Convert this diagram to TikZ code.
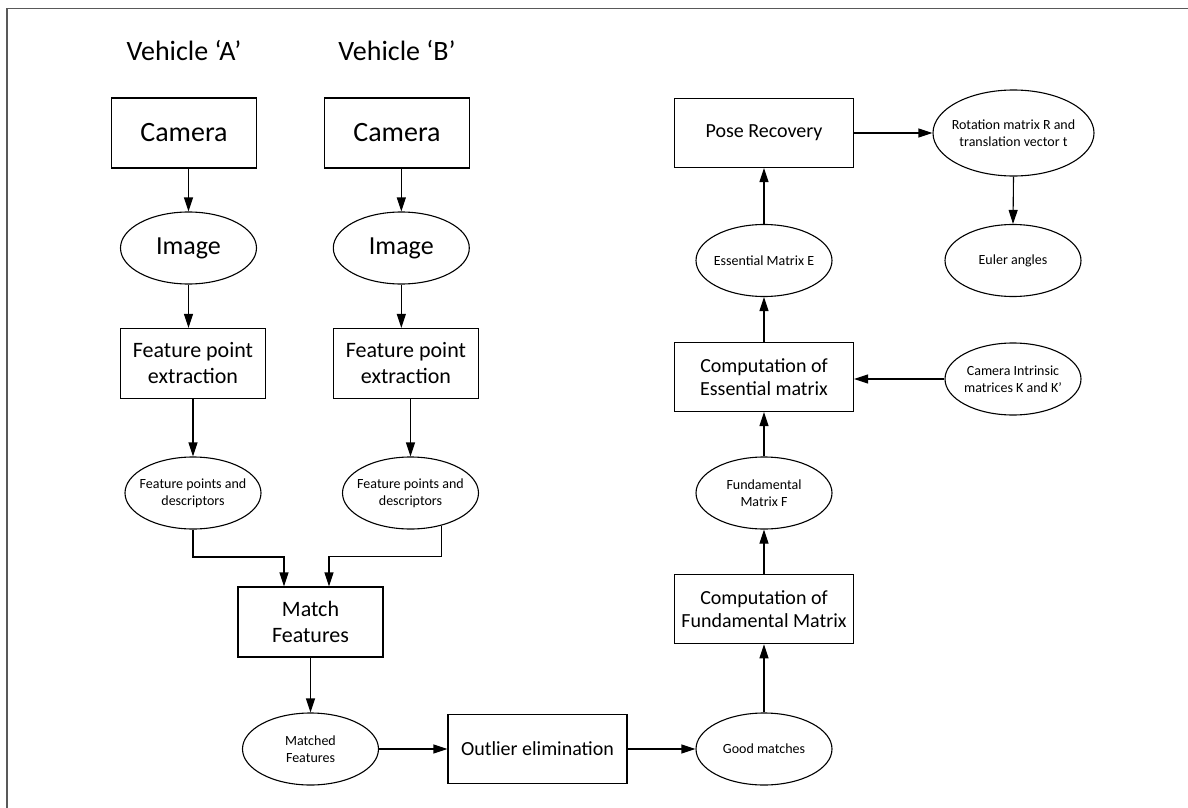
\documentclass[tikz,border=0pt]{standalone}
\usepackage{fontspec}
\setmainfont{Carlito}
\usetikzlibrary{shapes.geometric,arrows.meta}

\begin{document}
\begin{tikzpicture}[x=1pt,y=-1pt,
		box/.style={draw, rectangle, line width=1.1pt, minimum width=145pt, minimum height=70pt, align=center},
		widebox/.style={box, minimum width=179pt, minimum height=69pt},
		oval/.style={draw, ellipse, line width=1.1pt, minimum width=136pt, minimum height=72pt, inner sep=-12pt, align=center, font=\fontsize{14}{17}\selectfont},
		arr/.style={-{Triangle[length=14pt,width=9pt]}, line width=1.1pt},
		bigfont/.style={font=\fontsize{28}{33}\selectfont},
		imgfont/.style={font=\fontsize{26}{30}\selectfont},
		midfont/.style={font=\fontsize{22}{26}\selectfont},
		smallfont/.style={font=\fontsize{20}{23}\selectfont}]
		\useasboundingbox (0,0) rectangle (1188,808);
		\draw[gray!70!black, line width=1.5pt] (6.9,808) -- (6.9,8.3) -- (1188,8.3);

		\node[bigfont, anchor=base] (vehA) at (184,60) {Vehicle ‘A’};
		\node[bigfont, anchor=base] (vehB) at (397,60) {Vehicle ‘B’};
		\node[box, bigfont] (camA) at (184,133) {Camera};
		\node[box, bigfont] (camB) at (397,133) {Camera};
		\node[oval, imgfont] (imgA) at (188.5,248) {Image};
		\node[oval, imgfont] (imgB) at (401.3,248) {Image};
		\node[box, midfont] (fpeA) at (193,363.5) {Feature point\\extraction};
		\node[box, midfont] (fpeB) at (405.9,363.5) {Feature point\\extraction};
		\node[oval] (fpdA) at (193,493) {Feature points and\\descriptors};
		\node[oval] (fpdB) at (410.5,493) {Feature points and\\descriptors};
		\node[box, midfont] (match) at (310.5,622) {Match\\Features};
		\node[oval] (matched) at (310.5,749) {Matched\\Features};
		\node[widebox, smallfont] (outlier) at (537.5,749) {Outlier elimination};
		\node[oval] (good) at (764,749) {Good matches};
		\node[widebox, smallfont] (compF) at (764,609.3) {Computation of\\Fundamental Matrix};
		\node[oval] (fundF) at (764,493) {Fundamental\\Matrix F};
		\node[widebox, smallfont] (compE) at (764,377) {Computation of\\Essential matrix};
		\node[oval] (camint) at (1013,379) {Camera Intrinsic\\matrices K and K’};
		\node[oval] (essE) at (764,260.5) {Essential Matrix E};
		\node[widebox, smallfont] (pose) at (764,133) {Pose Recovery};
		\node[oval, minimum width=161pt, minimum height=86pt] (rot) at (1013.5,133) {Rotation matrix R and\\translation vector t};
		\node[oval] (euler) at (1013,260.5) {Euler angles};

		\draw[arr] (camA.south -| imgA.north) -- (imgA.north);
		\draw[arr] (camB.south -| imgB.north) -- (imgB.north);
		\draw[arr] (imgA.south) -- (imgA.south |- fpeA.north);
		\draw[arr] (imgB.south) -- (imgB.south |- fpeB.north);
		\draw[arr] (fpeA.south -| fpdA.north) -- (fpdA.north);
		\draw[arr] (fpeB.south -| fpdB.north) -- (fpdB.north);
		\draw[arr] (fpdA.south) -- ++(0,27.4) -| ([xshift=-26.5pt]match.north);
		\draw[arr] (fpdB.-46) -- ++(0,31.3) -| ([xshift=18.5pt]match.north);
		\draw[arr] (match.south) -- (matched.north);
		\draw[arr] (matched.east) -- (outlier.west);
		\draw[arr] (outlier.east) -- (good.west);
		\draw[arr] (good.north) -- (compF.south);
		\draw[arr] (compF.north) -- (fundF.south);
		\draw[arr] (fundF.north) -- (compE.south);
		\draw[arr] (camint.west) -- (camint.west -| compE.east);
		\draw[arr] (compE.north) -- (essE.south);
		\draw[arr] (essE.north) -- (pose.south);
		\draw[arr] (pose.east) -- (rot.west);
		\draw[arr] (rot.south) -- (euler.north);
\end{tikzpicture}
\end{document}
